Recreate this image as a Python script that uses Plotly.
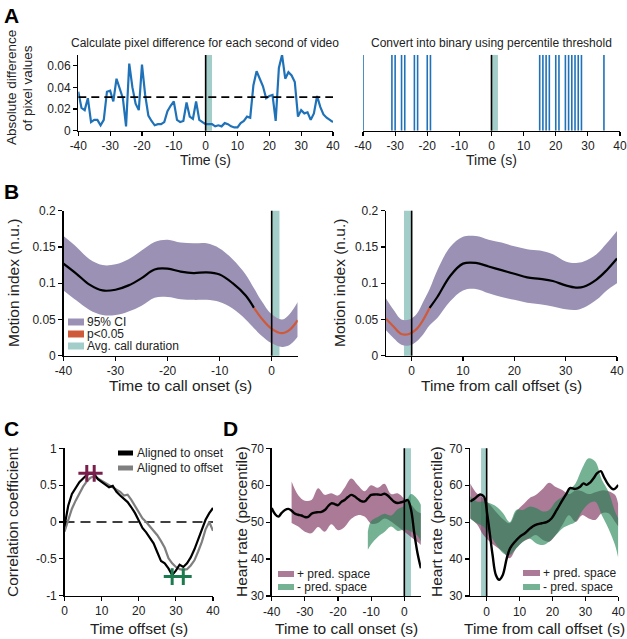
import plotly.graph_objects as go

W, H = 627, 639

# ---------------- Panel A data ----------------
a_time = list(range(-40, 41))
a_pixel_diff = [0.036, 0.021, 0.019, 0.030, 0.008, 0.010, 0.010, 0.005, 0.010, 0.036,
                0.037, 0.027, 0.048, 0.040, 0.030, 0.004, 0.062, 0.040, 0.025, 0.019,
                0.061, 0.033, 0.014, 0.009, 0.005, 0.006, 0.006, 0.008, 0.018, 0.023,
                0.027, 0.010, 0.008, 0.009, 0.026, 0.013, 0.011, 0.027, 0.010, 0.008,
                0.006, 0.006, 0.006, 0.004, 0.005, 0.004, 0.007, 0.006, 0.004, 0.003,
                0.003, 0.007, 0.009, 0.013, 0.012, 0.042, 0.055, 0.048, 0.041, 0.030,
                0.032, 0.033, 0.009, 0.058, 0.070, 0.048, 0.054, 0.051, 0.045, 0.013,
                0.019, 0.016, 0.017, 0.010, 0.016, 0.032, 0.022, 0.015, 0.012, 0.010, 0.008]
a_threshold = 0.031
a_binary_times = [-40, -31, -30, -28, -27, -24, -23, -20, -19,
                  15, 16, 17, 18, 20, 21, 23, 24, 25, 26, 27, 28, 35]
a_call_window = [0, 2]
a_xticks = [-40, -30, -20, -10, 0, 10, 20, 30, 40]
a_xticktext = ["-40", "-30", "-20", "-10", "0", "10", "20", "30", "40"]
a_yticks = [0, 0.02, 0.04, 0.06]
a_yticktext = ["0", "0.02", "0.04", "0.06"]

# ---------------- Panel B data ----------------
b_on_time = [-40, -37.5, -35, -32.5, -30, -27.5, -25, -22.5, -20, -17.5, -15, -12.5,
             -10, -7.5, -5, -3.4, -2, 0, 2, 3.5, 5]
b_on_mean = [0.127, 0.113, 0.098, 0.090, 0.091, 0.097, 0.107, 0.119, 0.120, 0.116, 0.114,
             0.115, 0.112, 0.100, 0.083, 0.066, 0.052, 0.037, 0.031, 0.036, 0.049]
b_on_upper = [0.165, 0.150, 0.133, 0.125, 0.126, 0.133, 0.145, 0.157, 0.160, 0.156, 0.155,
              0.155, 0.148, 0.133, 0.112, 0.093, 0.076, 0.057, 0.050, 0.058, 0.074]
b_on_lower = [0.090, 0.076, 0.063, 0.056, 0.056, 0.061, 0.069, 0.080, 0.081, 0.078, 0.077,
              0.077, 0.074, 0.065, 0.050, 0.038, 0.028, 0.017, 0.012, 0.015, 0.026]
b_on_sig_from = -3.4
b_on_call_window = [0, 1.5]

b_off_time = [-5, -3.5, -2, -0.5, 1, 2.3, 3.5, 5, 7.5, 10, 12.5, 15, 17.5, 20, 22.5, 25,
              27.5, 30, 32, 33.5, 36, 38, 40]
b_off_mean = [0.051, 0.040, 0.030, 0.030, 0.037, 0.050, 0.066, 0.081, 0.110, 0.127, 0.128,
              0.123, 0.118, 0.113, 0.108, 0.106, 0.103, 0.097, 0.094, 0.095, 0.105, 0.118, 0.134]
b_off_upper = [0.079, 0.063, 0.050, 0.050, 0.058, 0.075, 0.092, 0.118, 0.150, 0.164, 0.165,
               0.160, 0.156, 0.151, 0.147, 0.145, 0.140, 0.130, 0.128, 0.130, 0.140, 0.155, 0.172]
b_off_lower = [0.035, 0.024, 0.015, 0.014, 0.020, 0.030, 0.042, 0.052, 0.075, 0.090, 0.092,
               0.086, 0.081, 0.077, 0.073, 0.071, 0.068, 0.064, 0.063, 0.066, 0.077, 0.090, 0.100]
b_off_sig_to = 3.5
b_off_call_window = [-1.5, 0]
b_yticks = [0, 0.05, 0.1, 0.15, 0.2]
b_yticktext = ["0", "0.05", "0.1", "0.15", "0.2"]
b_on_xticks = [-40, -30, -20, -10, 0]
b_on_xticktext = ["-40", "-30", "-20", "-10", "0"]
b_off_xticks = [0, 10, 20, 30, 40]
b_off_xticktext = ["0", "10", "20", "30", "40"]

# ---------------- Panel C data ----------------
c_lag = list(range(0, 41))
c_onset_corr = [-0.06, 0.22, 0.38, 0.47, 0.54, 0.59, 0.64, 0.66, 0.65, 0.58,
                0.54, 0.50, 0.47, 0.49, 0.41, 0.36, 0.31, 0.27, 0.20, 0.12,
                0.02, -0.08, -0.14, -0.21, -0.29, -0.41, -0.53, -0.56, -0.63, -0.72,
                -0.66, -0.58, -0.61, -0.56, -0.48, -0.37, -0.24, -0.10, 0.03, 0.12, 0.19]
c_offset_corr = [-0.13, 0.03, 0.18, 0.29, 0.39, 0.48, 0.55, 0.60, 0.62, 0.59,
                 0.56, 0.53, 0.50, 0.46, 0.44, 0.41, 0.36, 0.37, 0.30, 0.21,
                 0.14, 0.05, 0.00, -0.06, -0.12, -0.18, -0.26, -0.35, -0.49, -0.56,
                 -0.61, -0.64, -0.65, -0.64, -0.59, -0.52, -0.40, -0.27, -0.10, 0.00, -0.12]
c_peak_lags = [6, 8]
c_peak_vals = [0.66, 0.66]
c_trough_lags = [29, 32]
c_trough_vals = [-0.74, -0.74]
c_xticks = [0, 10, 20, 30, 40]
c_xticktext = ["0", "10", "20", "30", "40"]
c_yticks = [-1, -0.5, 0, 0.5, 1]
c_yticktext = ["-1", "-0.5", "0", "0.5", "1"]

# ---------------- Panel D data ----------------
d_on_time = list(range(-40, 6))
d_on_hr = [53.8, 52.2, 51.5, 52.5, 53.3, 53.6, 53.1, 52.3, 52.0, 51.8,
           51.4, 51.4, 52.3, 52.6, 52.7, 52.8, 53.3, 54.3, 55.1, 54.9,
           54.6, 55.5, 56.0, 56.8, 57.4, 57.0, 56.3, 55.7, 55.6, 56.5,
           57.4, 57.5, 57.5, 57.4, 57.7, 57.2, 56.3, 55.5, 55.2, 55.4,
           55.6, 56.0, 53.5, 47.0, 41.5, 37.5]
d_on_pos_t = [-34, -32, -30, -28, -26, -24, -22, -20, -18, -16, -14, -12, -10, -8, -6, -4, -2, 0, 2, 4, 5]
d_on_pos_upper = [61.0, 57.3, 55.8, 56.0, 59.2, 57.4, 57.8, 57.2, 59.3, 61.8, 60.0, 58.4,
                  60.0, 59.3, 60.4, 57.6, 57.8, 56.3, 54.8, 52.8, 52.4]
d_on_pos_lower = [49.8, 48.8, 47.4, 47.0, 48.7, 47.4, 49.4, 47.8, 48.7, 50.9, 51.9, 51.5,
                  49.6, 49.8, 51.0, 50.2, 48.8, 47.4, 46.0, 44.6, 43.8]
d_on_neg_t = [-11, -10, -8, -6, -4, -2, 0, 2, 4, 5]
d_on_neg_upper = [47.5, 50.3, 51.4, 52.3, 51.8, 53.5, 54.5, 57.6, 56.2, 54.7]
d_on_neg_lower = [42.5, 44.0, 46.0, 47.3, 48.8, 47.6, 48.0, 47.5, 46.3, 44.7]
d_on_call_window = [0, 2]

d_off_time = [-5, -3.5, -2, -0.8, 0.2, 1, 1.8, 2.8, 3.8, 4.9, 6.1, 7.1, 8.6, 10.1, 11.6, 13.2,
              14.7, 16.7, 18.2, 19.7, 21.3, 22.8, 24.3, 25.3, 26.9, 28.4, 29.4, 30.4, 31.5,
              32.5, 33.5, 34.7, 35.6, 37, 38.5, 40]
d_off_hr = [55.6, 56.5, 57.5, 56.9, 52.0, 46.6, 41.1, 35.7, 34.4, 35.7, 40.2, 42.9, 44.7, 46.1,
            47.0, 48.3, 49.2, 49.7, 50.0, 51.0, 53.3, 55.6, 57.8, 59.2, 59.0, 59.6, 60.5, 60.1,
            60.8, 61.9, 63.2, 63.8, 62.3, 60.1, 58.9, 60.1]
d_off_band_t = [-5, -3, -1, 1, 3, 5, 7, 9, 11, 13, 15, 17, 19, 21, 23, 25, 27, 29, 31, 33, 35, 37, 39, 40]
d_off_pos_upper = [60.5, 57.8, 56.5, 54.7, 52.6, 50.8, 49.7, 52.9, 54.7, 56.5, 57.4, 59.0,
                   60.7, 59.5, 58.7, 57.6, 58.6, 58.4, 57.6, 58.1, 58.6, 58.4, 57.4, 54.7]
d_off_pos_lower = [51.0, 49.5, 46.5, 44.7, 43.3, 42.0, 40.2, 42.9, 44.7, 45.6, 46.5, 45.2,
                   44.7, 46.5, 49.2, 51.9, 50.1, 51.9, 51.0, 50.6, 52.4, 52.4, 50.1, 48.8]
d_off_neg_upper = [57.0, 55.6, 55.6, 55.1, 54.2, 52.4, 50.0, 53.3, 53.3, 54.2, 53.8, 52.9,
                   53.3, 55.6, 56.9, 58.7, 60.5, 64.5, 67.3, 66.4, 61.5, 58.3, 52.9, 51.0]
d_off_neg_lower = [51.0, 49.7, 48.8, 46.5, 43.8, 41.6, 41.1, 42.9, 44.7, 45.6, 44.3, 43.8,
                   44.7, 46.5, 48.3, 49.2, 50.1, 53.0, 55.0, 55.5, 51.9, 48.3, 43.8, 40.2]
d_off_call_window = [-1.7, 0]
d_yticks = [30, 40, 50, 60, 70]
d_yticktext = ["30", "40", "50", "60", "70"]

# ---------------- styles ----------------
FONT = "Liberation Sans, Arial, sans-serif"
TXT = "#222222"
BLUE = "#1f72b8"
TEAL = "#a3cdc8"
PURPLE = "#9b91b4"
RED = "#cf5a3a"
GRAY = "#7f7f7f"
PINK_F = "rgba(120,40,85,0.62)"
GREEN_F = "rgba(30,130,80,0.62)"
PLUS_PURPLE = "#7a1f4c"
PLUS_GREEN = "#1d7a4f"


def px(x):
    return x / W


def py(y):
    return 1 - y / H


def sfx(i):
    return "" if i == 1 else str(i)


fig = go.Figure()
layout_axes = {}


def make_axes(i, xpx, ypx, xr, yr, xt, xtt, yt=None, ytt=None, show_y=True):
    layout_axes["xaxis" + sfx(i)] = dict(
        domain=[px(xpx[0]), px(xpx[1])], range=xr, anchor="y" + sfx(i), automargin=False,
        showline=True, linecolor="black", linewidth=1.3, ticks="outside", ticklen=4,
        tickwidth=1.2, tickcolor="black", tickvals=xt, ticktext=xtt, showgrid=False,
        zeroline=False, tickfont=dict(size=12, color=TXT, family=FONT), fixedrange=True)
    yd = dict(domain=[py(ypx[1]), py(ypx[0])], range=yr, anchor="x" + sfx(i), automargin=False,
              showgrid=False, zeroline=False, fixedrange=True)
    if show_y:
        yd.update(showline=True, linecolor="black", linewidth=1.3, ticks="outside",
                  ticklen=4, tickwidth=1.2, tickcolor="black", tickvals=yt, ticktext=ytt,
                  tickfont=dict(size=12, color=TXT, family=FONT))
    else:
        yd.update(visible=False)
    layout_axes["yaxis" + sfx(i)] = yd


# axes boxes (pixel positions)
make_axes(1, (78.3, 333), (54.9, 130.7), [-40, 40], [0, 0.07], a_xticks, a_xticktext, a_yticks, a_yticktext)
make_axes(2, (363, 620), (54.9, 130.7), [-40, 40], [0, 1], a_xticks, a_xticktext, show_y=False)
make_axes(3, (63.5, 297.7), (210.7, 355.7), [-40, 5], [0, 0.2], b_on_xticks, b_on_xticktext, b_yticks, b_yticktext)
make_axes(4, (386, 617), (210.7, 355.7), [-5, 40], [0, 0.2], b_off_xticks, b_off_xticktext, b_yticks, b_yticktext)
make_axes(5, (64.5, 213), (448.3, 595.7), [0, 40], [-1, 1], c_xticks, c_xticktext, c_yticks, c_yticktext)
make_axes(6, (271.7, 420.9), (448.3, 596), [-40, 5], [30, 70], b_on_xticks, b_on_xticktext, d_yticks, d_yticktext)
make_axes(7, (470.2, 618.3), (448.3, 596), [-5, 40], [30, 70], b_off_xticks, b_off_xticktext, d_yticks, d_yticktext)


def tr(i, **kw):
    kw.setdefault("showlegend", False)
    kw.setdefault("hoverinfo", "skip")
    fig.add_trace(go.Scatter(xaxis="x" + sfx(i), yaxis="y" + sfx(i), **kw))


# ---- Panel A ----
tr(1, x=a_time, y=a_pixel_diff, mode="lines", line=dict(color=BLUE, width=2.2))
tr(1, x=[a_time[0], a_time[-1]], y=[a_threshold, a_threshold], mode="lines",
   line=dict(color="black", width=1.6, dash="8px,5px"))
bx, by = [], []
for t in a_binary_times:
    bx += [t, t, None]
    by += [0, 1, None]
tr(2, x=bx, y=by, mode="lines", line=dict(color=BLUE, width=1.6))


# ---- Panel B ----
def band(i, t, lo, up, color):
    tr(i, x=t, y=lo, mode="lines", line=dict(width=0, shape="spline", smoothing=1.0), fill="none")
    tr(i, x=t, y=up, mode="lines", line=dict(width=0, shape="spline", smoothing=1.0),
       fill="tonexty", fillcolor=color)


band(3, b_on_time, b_on_lower, b_on_upper, PURPLE)
on_black = [(t, m) for t, m in zip(b_on_time, b_on_mean) if t <= b_on_sig_from]
on_red = [(t, m) for t, m in zip(b_on_time, b_on_mean) if t >= b_on_sig_from]
tr(3, x=[p[0] for p in on_black], y=[p[1] for p in on_black], mode="lines",
   line=dict(color="black", width=2.2, shape="spline"))
tr(3, x=[p[0] for p in on_red], y=[p[1] for p in on_red], mode="lines",
   line=dict(color=RED, width=2.2, shape="spline"))

band(4, b_off_time, b_off_lower, b_off_upper, PURPLE)
off_red = [(t, m) for t, m in zip(b_off_time, b_off_mean) if t <= b_off_sig_to]
off_black = [(t, m) for t, m in zip(b_off_time, b_off_mean) if t >= b_off_sig_to]
tr(4, x=[p[0] for p in off_red], y=[p[1] for p in off_red], mode="lines",
   line=dict(color=RED, width=2.2, shape="spline"))
tr(4, x=[p[0] for p in off_black], y=[p[1] for p in off_black], mode="lines",
   line=dict(color="black", width=2.2, shape="spline"))

# ---- Panel C ----
tr(5, x=[c_lag[0], c_lag[-1]], y=[0, 0], mode="lines",
   line=dict(color="black", width=1.5, dash="10px,6px"))
tr(5, x=c_lag, y=c_offset_corr, mode="lines", line=dict(color=GRAY, width=2.2))
tr(5, x=c_lag, y=c_onset_corr, mode="lines", line=dict(color="black", width=2.2))
tr(5, x=c_peak_lags, y=c_peak_vals, mode="markers",
   marker=dict(symbol="cross-thin", size=12, line=dict(color=PLUS_PURPLE, width=3)))
tr(5, x=c_trough_lags, y=c_trough_vals, mode="markers",
   marker=dict(symbol="cross-thin", size=12, line=dict(color=PLUS_GREEN, width=3)))

# ---- Panel D ----
band(6, d_on_pos_t, d_on_pos_lower, d_on_pos_upper, PINK_F)
band(6, d_on_neg_t, d_on_neg_lower, d_on_neg_upper, GREEN_F)
tr(6, x=d_on_time, y=d_on_hr, mode="lines", line=dict(color="black", width=2.4, shape="spline"))

band(7, d_off_band_t, d_off_pos_lower, d_off_pos_upper, PINK_F)
band(7, d_off_band_t, d_off_neg_lower, d_off_neg_upper, GREEN_F)
tr(7, x=d_off_time, y=d_off_hr, mode="lines", line=dict(color="black", width=2.4, shape="spline"))

# ---- shapes: call windows and onset/offset lines ----
shapes = []
for i, win in [(1, a_call_window), (2, a_call_window), (3, b_on_call_window),
               (4, b_off_call_window), (6, d_on_call_window), (7, d_off_call_window)]:
    shapes.append(dict(type="rect", xref="x" + sfx(i), yref="y" + sfx(i) + " domain",
                       x0=win[0], x1=win[1], y0=0, y1=1, fillcolor=TEAL,
                       line=dict(width=0), layer="below"))
    shapes.append(dict(type="line", xref="x" + sfx(i), yref="y" + sfx(i) + " domain",
                       x0=0, x1=0, y0=0, y1=1, line=dict(color="black", width=1.6),
                       layer="above"))

annotations = []


def text(x, y, s, size, anchor="center", angle=0, bold=False, color=TXT):
    annotations.append(dict(x=px(x), y=py(y), xref="paper", yref="paper",
                            text=("<b>%s</b>" % s) if bold else s,
                            showarrow=False, xanchor=anchor, yanchor="middle", textangle=angle,
                            font=dict(size=size, color=color, family=FONT)))


def swatch(x0, x1, yc, h, color):
    shapes.append(dict(type="rect", xref="paper", yref="paper", x0=px(x0), x1=px(x1),
                       y0=py(yc + h / 2), y1=py(yc - h / 2), fillcolor=color, line=dict(width=0)))


# panel letters
text(2, 15, "A", 21, "left", bold=True, color="black")
text(2, 191, "B", 21, "left", bold=True, color="black")
text(2, 428, "C", 21, "left", bold=True, color="black")
text(221, 428, "D", 21, "left", bold=True, color="black")

# panel A titles
text(205, 43, "Calculate pixel difference for each second of video", 12)
text(491, 43, "Convert into binary using percentile threshold", 12)
text(205.7, 160, "Time (s)", 14)
text(491.5, 160, "Time (s)", 14)
text(11, 88, "Absolute difference", 13.5, angle=-90)
text(27, 88, "of pixel values", 13.5, angle=-90)

# panel B titles
text(14, 283, "Motion index (n.u.)", 15.5, angle=-90)
text(340, 283, "Motion index (n.u.)", 15.5, angle=-90)
text(180.6, 386, "Time to call onset (s)", 15.5)
text(501.5, 386, "Time from call offset (s)", 15.5)

# panel C titles
text(12, 522, "Correlation coefficient", 15.5, angle=-90)
text(139, 628, "Time offset (s)", 15.5)

# panel D titles
text(241, 522, "Heart rate (percentile)", 15.5, angle=-90)
text(436, 522, "Heart rate (percentile)", 15.5, angle=-90)
text(346.3, 628, "Time to call onset (s)", 15.5)
text(544.2, 628, "Time from call offset (s)", 15.5)

# legends
swatch(68, 84, 322, 7, PURPLE)
swatch(68, 84, 334, 7, RED)
swatch(68, 84, 346, 7, TEAL)
text(85, 322, "95% CI", 12, "left")
text(85, 334, "p&lt;0.05", 12, "left")
text(85, 346, "Avg. call duration", 12, "left")

swatch(118, 133, 453, 5, "black")
swatch(118, 133, 468, 5, GRAY)
text(134.5, 453, "Aligned to onset", 12, "left")
text(134.5, 468, "Aligned to offset", 12, "left")

swatch(278, 294, 574, 6, PINK_F)
swatch(278, 294, 587, 6, GREEN_F)
text(295, 574, "+ pred. space", 12, "left")
text(295, 587, "- pred. space", 12, "left")

swatch(523, 540, 573, 6, PINK_F)
swatch(523, 540, 587, 6, GREEN_F)
text(541, 573, "+ pred. space", 12, "left")
text(541, 587, "- pred. space", 12, "left")

fig.update_layout(
    width=W, height=H, autosize=False, margin=dict(l=0, r=0, t=0, b=0, autoexpand=False),
    paper_bgcolor="white", plot_bgcolor="white", showlegend=False,
    font=dict(family=FONT, color=TXT), shapes=shapes, annotations=annotations,
    **layout_axes)

fig.write_html("out.html", config={"staticPlot": True},
               post_script="document.body.style.margin='0px';document.body.style.overflow='hidden';")
